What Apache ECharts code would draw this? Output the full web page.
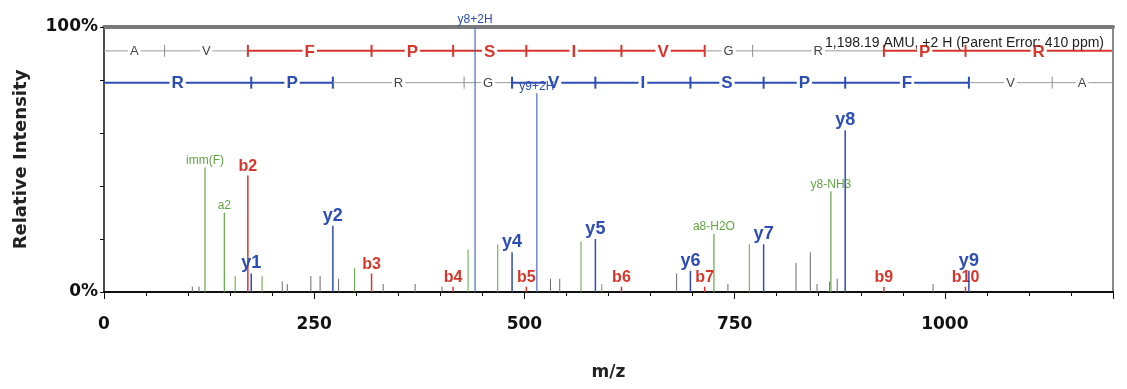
<!DOCTYPE html>
<html>
<head>
<meta charset="utf-8">
<script src="https://cdn.jsdelivr.net/npm/echarts@6/dist/echarts.min.js"></script>
<style>
html, body { margin: 0; background: #fff; }
#chart { width: 1127px; height: 389px; }
</style>
</head>
<body>
<div id="chart"></div>
<script>
// sequence ladders (b ions left to right, y ions reversed)
const bResidues = ['A', 'V', 'F', 'P', 'S', 'I', 'V', 'G', 'R', 'P', 'R'];
const bBounds = [0, 72.04, 171.11, 318.18, 415.23, 502.26, 615.35, 714.42, 771.44, 927.54, 1024.59, 1198.7];
const bSeen = [1, 0, 1, 1, 1, 1, 1, 1, 0, 1, 1, 1];
const yResidues = ['R', 'P', 'R', 'G', 'V', 'I', 'S', 'P', 'F', 'V', 'A'];
const yBounds = [0, 175.12, 272.17, 428.27, 485.29, 584.36, 697.44, 784.48, 881.53, 1028.6, 1127.67, 1198.7];
const ySeen = [1, 1, 1, 0, 1, 1, 1, 1, 1, 1, 0, 1];

// peaks: [m/z, relative intensity %, label]
const yIons = [
  [175.1, 7, 'y1'], [272.2, 25, 'y2'], [485.3, 15, 'y4'], [584.4, 20, 'y5'],
  [697.4, 8, 'y6'], [784.5, 18, 'y7'], [881.5, 61, 'y8'], [1028.6, 8, 'y9']
];
const yIons2H = [[441.3, 100, 'y8+2H'], [514.8, 75, 'y9+2H']];
const bIons = [
  [171.1, 44, 'b2'], [318.2, 7, 'b3'], [415.2, 2, 'b4'], [502.3, 2, 'b5'],
  [615.4, 2, 'b6'], [714.4, 2, 'b7'], [927.5, 2, 'b9'], [1024.6, 2, 'b10']
];
const otherIons = [
  [120.1, 47, 'imm(F)'], [143.1, 30, 'a2'], [725.4, 22, 'a8-H2O'], [864.5, 38, 'y8-NH3']
];
const greenPeaks = [
  [156, 6], [188, 6], [298, 9], [433, 16], [468.3, 18], [567.3, 19], [592, 3], [767.5, 18]
];
const grayPeaks = [
  [105, 2], [113, 2], [212, 4], [218, 3], [246, 6], [257, 6], [279, 5], [332, 3],
  [370, 3], [402, 2], [531, 5], [542, 5], [681, 7], [742, 3], [823, 11], [840, 15],
  [848, 3], [863, 4], [872, 5], [986, 3]
];

const parentNote = '1,198.19 AMU, +2 H (Parent Error: 410 ppm)';
const bLevel = 91;   // ladder rows, in % units
const yLevel = 79;

const BLUE = '#2c4db3';
const RED = '#d7362b';
const GREEN = '#62a644';
const GRAY = '#6b6b6b';

function ladderData(bounds) {
  const out = [];
  for (let i = 0; i < bounds.length - 1; i++) out.push([bounds[i], bounds[i + 1]]);
  return out;
}

function ladderItem(level, residues, seen, color) {
  return function (params, api) {
    const i = params.dataIndex;
    const p0 = api.coord([api.value(0), level]);
    const p1 = api.coord([api.value(1), level]);
    const on = seen[i] && seen[i + 1];
    const children = [{
      type: 'line',
      shape: { x1: p0[0], y1: p0[1], x2: p1[0], y2: p1[1] },
      style: { stroke: on ? color : '#9a9a9a', lineWidth: on ? 2 : 1 }
    }];
    if (i < residues.length - 1) {
      children.push({
        type: 'line',
        shape: { x1: p1[0], y1: p1[1] - 6, x2: p1[0], y2: p1[1] + 6 },
        style: { stroke: seen[i + 1] ? color : '#8a8a8a', lineWidth: seen[i + 1] ? 2 : 1 }
      });
    }
    children.push({
      type: 'text',
      style: {
        text: residues[i],
        x: (p0[0] + p1[0]) / 2,
        y: p0[1] + 1,
        align: 'center',
        verticalAlign: 'middle',
        fill: on ? color : '#444',
        font: on ? 'bold 17px "Liberation Sans", Arial, sans-serif' : '13px "Liberation Sans", Arial, sans-serif',
        backgroundColor: '#fff',
        padding: [0, 2]
      }
    });
    return { type: 'group', children: children };
  };
}

function peakItem(list, color, width, font, labelColor) {
  return function (params, api) {
    const base = api.coord([api.value(0), 0]);
    const top = api.coord([api.value(0), api.value(1)]);
    const children = [{
      type: 'line',
      shape: { x1: base[0], y1: base[1], x2: top[0], y2: top[1] },
      style: { stroke: color, lineWidth: width }
    }];
    const lbl = list[params.dataIndex][2];
    if (lbl) {
      children.push({
        type: 'text',
        style: {
          text: lbl, x: top[0], y: top[1] - 1,
          align: 'center', verticalAlign: 'bottom',
          fill: labelColor, font: font
        }
      });
    }
    return { type: 'group', children: children };
  };
}

function peakSeries(list, color, width, font, labelColor, z) {
  return {
    type: 'custom',
    renderItem: peakItem(list, color, width, font, labelColor),
    data: list.map(function (d) { return [d[0], d[1]]; }),
    encode: { x: 0, y: 1 },
    clip: false,
    silent: true,
    z: z
  };
}

const BIG = 'bold 18px "Liberation Sans", Arial, sans-serif';
const MID = 'bold 16px "Liberation Sans", Arial, sans-serif';
const SMALL = '12px "Liberation Sans", Arial, sans-serif';

const chart = echarts.init(document.getElementById('chart'));
chart.setOption({
  animation: false,
  textStyle: { fontFamily: 'Liberation Sans, Arial, sans-serif' },
  title: {
    text: parentNote,
    right: 18,
    top: 31,
    textStyle: { fontSize: 14, fontWeight: 'normal', color: '#222' }
  },
  grid: { left: 104, right: 14, top: 27, bottom: 97, outerBoundsMode: 'none' },
  xAxis: [{
    type: 'value',
    min: 0, max: 1200, interval: 250,
    name: 'm/z', nameLocation: 'middle', nameGap: 72,
    nameTextStyle: { fontSize: 17, fontWeight: 'bold', color: '#222', fontFamily: 'DejaVu Sans' },
    axisLine: { onZero: false, lineStyle: { color: '#111', width: 2 } },
    axisTick: { length: 7, lineStyle: { color: '#111' } },
    minorTick: { show: true, splitNumber: 5, length: 4, lineStyle: { color: '#111' } },
    splitLine: { show: false },
    axisLabel: {
      fontSize: 17, fontWeight: 'bold', color: '#111', margin: 24, showMaxLabel: false,
      fontFamily: 'DejaVu Sans',
      formatter: function (v) { return v % 250 === 0 && v <= 1000 ? String(v) : ''; }
    }
  }, {
    type: 'value', position: 'top', min: 0, max: 1200,
    axisLine: { show: true, onZero: false, lineStyle: { color: '#7a7a7a', width: 4 } },
    axisTick: { show: false }, axisLabel: { show: false }, splitLine: { show: false }
  }],
  yAxis: [{
    type: 'value',
    min: 0, max: 100, interval: 20,
    name: 'Relative Intensity', nameLocation: 'middle', nameGap: 74,
    nameTextStyle: { fontSize: 18, fontWeight: 'bold', color: '#222', fontFamily: 'DejaVu Sans' },
    axisLine: { show: true, onZero: false, lineStyle: { color: '#111', width: 1.5 } },
    axisTick: { show: true, length: 4, lineStyle: { color: '#111' } },
    splitLine: { show: false },
    axisLabel: {
      fontSize: 17, fontWeight: 'bold', color: '#111', margin: 6, fontFamily: 'DejaVu Sans',
      formatter: function (v) { return (v === 0 || v === 100) ? v + '%' : ''; }
    }
  }, {
    type: 'value', position: 'right', min: 0, max: 100,
    axisLine: { show: true, onZero: false, lineStyle: { color: '#8a8a8a', width: 2 } },
    axisTick: { show: false }, axisLabel: { show: false }, splitLine: { show: false }
  }],
  series: [
    {
      type: 'custom',
      renderItem: ladderItem(bLevel, bResidues, bSeen, RED),
      data: ladderData(bBounds),
      encode: { x: [0, 1] },
      clip: false, silent: true, z: 1
    },
    {
      type: 'custom',
      renderItem: ladderItem(yLevel, yResidues, ySeen, BLUE),
      data: ladderData(yBounds),
      encode: { x: [0, 1] },
      clip: false, silent: true, z: 1
    },
    peakSeries(grayPeaks, GRAY, 1, SMALL, GRAY, 2),
    peakSeries(greenPeaks, GREEN, 1, SMALL, GREEN, 2),
    peakSeries(otherIons, GREEN, 1.2, SMALL, GREEN, 3),
    peakSeries(bIons, RED, 1.5, MID, RED, 4),
    peakSeries(yIons, BLUE, 1.5, BIG, BLUE, 5),
    peakSeries(yIons2H, '#4a6cc4', 1.2, SMALL, BLUE, 5)
  ]
});
</script>
</body>
</html>
